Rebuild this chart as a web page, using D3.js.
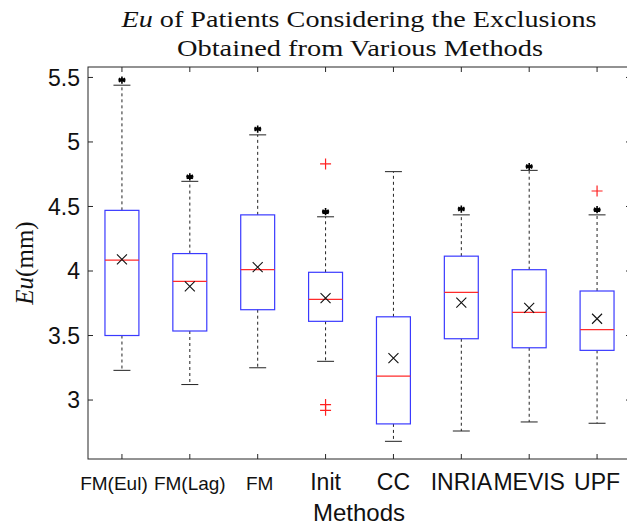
<!DOCTYPE html>
<html>
<head>
<meta charset="utf-8">
<script src="https://cdn.jsdelivr.net/npm/d3@7"></script>
<style>
  html, body { margin: 0; padding: 0; background: #fff; }
  svg { display: block; }
</style>
</head>
<body>
<div id="chart"></div>
<script>
// values (mm)
const methods     = ['FM(Eul)', 'FM(Lag)', 'FM', 'Init', 'CC', 'INRIA', 'MEVIS', 'UPF'];
const whiskerLow  = [3.23, 3.12, 3.25, 3.30, 2.68, 2.76, 2.83, 2.82];
const q1          = [3.50, 3.535, 3.70, 3.61, 2.815, 3.475, 3.405, 3.385];
const medians     = [4.085, 3.92, 4.01, 3.78, 3.185, 3.835, 3.68, 3.545];
const q3          = [4.47, 4.135, 4.435, 3.99, 3.645, 4.115, 4.01, 3.845];
const whiskerHigh = [5.44, 4.695, 5.055, 4.42, 4.77, 4.435, 4.78, 4.435];
const means       = [4.09, 3.88, 4.03, 3.79, 3.325, 3.755, 3.715, 3.63];
const stars       = [5.48, 4.73, 5.10, 4.46, null, 4.48, 4.81, 4.475];
const outliers    = [[], [], [], [4.83, 2.965, 2.92], [], [], [], [4.62]];
const yTicks      = [3, 3.5, 4, 4.5, 5, 5.5];

const W = 627, H = 526;
const m = { left: 88, right: 631, top: 67, bottom: 459 };

const svg = d3.select('#chart').append('svg').attr('width', W).attr('height', H)
  .attr('viewBox', `0 0 ${W} ${H}`);

const x = d3.scaleLinear().domain([0.5, 8.5]).range([m.left, m.right]);
const y = d3.scaleLinear().domain([2.543, 5.581]).range([m.bottom, m.top]);
const idx = methods.map((d, i) => i + 1);
const axisCol = '#262626';
const boxHalf = x(1.25) - x(1), capHalf = x(1.125) - x(1);
const serif = 'Liberation Serif, Times New Roman, serif';
const sans = 'Liberation Sans, Arial, sans-serif';

// frame
svg.append('rect').attr('x', m.left).attr('y', m.top)
  .attr('width', m.right - m.left).attr('height', m.bottom - m.top)
  .attr('fill', 'none').attr('stroke', axisCol).attr('stroke-width', 1);

// inward ticks on all four sides
const tk = 5;
const ticks = svg.append('g').attr('stroke', axisCol).attr('stroke-width', 1);
idx.forEach(i => {
  ticks.append('line').attr('x1', x(i)).attr('x2', x(i)).attr('y1', m.bottom).attr('y2', m.bottom - tk);
  ticks.append('line').attr('x1', x(i)).attr('x2', x(i)).attr('y1', m.top).attr('y2', m.top + tk);
});
yTicks.forEach(v => {
  ticks.append('line').attr('x1', m.left).attr('x2', m.left + tk).attr('y1', y(v)).attr('y2', y(v));
  ticks.append('line').attr('x1', m.right).attr('x2', m.right - tk).attr('y1', y(v)).attr('y2', y(v));
});

// y tick labels
svg.append('g').selectAll('text').data(yTicks).join('text')
  .attr('x', 80).attr('y', d => y(d)).attr('dy', '0.35em')
  .attr('text-anchor', 'end').attr('font-family', sans)
  .attr('font-size', 23).attr('fill', '#111').text(d => d);

// x tick labels (the FM ones are set smaller in the original, first two nudged apart)
const labelNudge = [-8, 0, 2, 0, 0, 0, 0, 0];
svg.append('g').selectAll('text').data(methods).join('text')
  .attr('x', (d, i) => x(i + 1) + labelNudge[i]).attr('y', 490)
  .attr('text-anchor', 'middle').attr('font-family', sans)
  .attr('font-size', d => d.startsWith('FM') ? 19 : 23).attr('fill', '#111').text(d => d);

// axis titles
svg.append('text').attr('x', 359).attr('y', 521).attr('text-anchor', 'middle')
  .attr('font-family', sans).attr('font-size', 24)
  .attr('fill', '#111').text('Methods');

const yl = svg.append('text').attr('transform', `translate(33,${(m.top + m.bottom) / 2}) rotate(-90)`)
  .attr('text-anchor', 'middle').attr('font-family', serif)
  .attr('font-size', 25).attr('fill', '#111');
yl.append('tspan').attr('font-style', 'italic').text('Eu');
yl.append('tspan').text('(mm)');

// title (computer-modern is wider than Liberation Serif, so stretch to the measured width)
const t1 = svg.append('text').attr('x', 359).attr('y', 27).attr('text-anchor', 'middle')
  .attr('font-family', serif).attr('font-size', 22.5).attr('fill', '#111')
  .attr('textLength', 475).attr('lengthAdjust', 'spacingAndGlyphs');
t1.append('tspan').attr('font-style', 'italic').text('Eu');
t1.append('tspan').text(' of Patients Considering the Exclusions');
svg.append('text').attr('x', 360).attr('y', 55.5).attr('text-anchor', 'middle')
  .attr('font-family', serif).attr('font-size', 22.5).attr('fill', '#111')
  .attr('textLength', 366).attr('lengthAdjust', 'spacingAndGlyphs')
  .text('Obtained from Various Methods');

// boxes
const g = svg.append('g');
idx.forEach((i, k) => {
  const cx = x(i);
  // dashed whiskers
  g.append('line').attr('x1', cx).attr('x2', cx).attr('y1', y(q3[k])).attr('y2', y(whiskerHigh[k]))
    .attr('stroke', '#222').attr('stroke-width', 1).attr('stroke-dasharray', '3,3');
  g.append('line').attr('x1', cx).attr('x2', cx).attr('y1', y(q1[k])).attr('y2', y(whiskerLow[k]))
    .attr('stroke', '#222').attr('stroke-width', 1).attr('stroke-dasharray', '3,3');
  // caps
  [whiskerHigh[k], whiskerLow[k]].forEach(v =>
    g.append('line').attr('x1', cx - capHalf).attr('x2', cx + capHalf).attr('y1', y(v)).attr('y2', y(v))
      .attr('stroke', '#222').attr('stroke-width', 1));
  // box
  g.append('rect').attr('x', cx - boxHalf).attr('y', y(q3[k]))
    .attr('width', 2 * boxHalf).attr('height', y(q1[k]) - y(q3[k]))
    .attr('fill', 'none').attr('stroke', '#3a3aff').attr('stroke-width', 1.2);
  // median
  g.append('line').attr('x1', cx - boxHalf).attr('x2', cx + boxHalf)
    .attr('y1', y(medians[k])).attr('y2', y(medians[k]))
    .attr('stroke', '#ff2b2b').attr('stroke-width', 1.2);
  // mean (x marker)
  const my = y(means[k]), s = 5;
  g.append('path').attr('d', `M${cx - s},${my - s}L${cx + s},${my + s}M${cx - s},${my + s}L${cx + s},${my - s}`)
    .attr('stroke', '#111').attr('stroke-width', 1.1);
  // significance star
  if (stars[k] != null) {
    const sy = y(stars[k]), r = 3.6;
    let p = '';
    [0, 60, 120].forEach(a => {
      const dx = r * Math.sin(a * Math.PI / 180), dy = r * Math.cos(a * Math.PI / 180);
      p += `M${cx - dx},${sy - dy}L${cx + dx},${sy + dy}`;
    });
    p += `M${cx - r},${sy}L${cx + r},${sy}`;
    g.append('path').attr('d', p).attr('stroke', '#000').attr('stroke-width', 1.6);
  }
  // outliers
  outliers[k].forEach(v => {
    const oy = y(v), o = 5.5;
    g.append('path').attr('d', `M${cx - o},${oy}L${cx + o},${oy}M${cx},${oy - o}L${cx},${oy + o}`)
      .attr('stroke', '#ff2020').attr('stroke-width', 1.2);
  });
});
</script>
</body>
</html>
